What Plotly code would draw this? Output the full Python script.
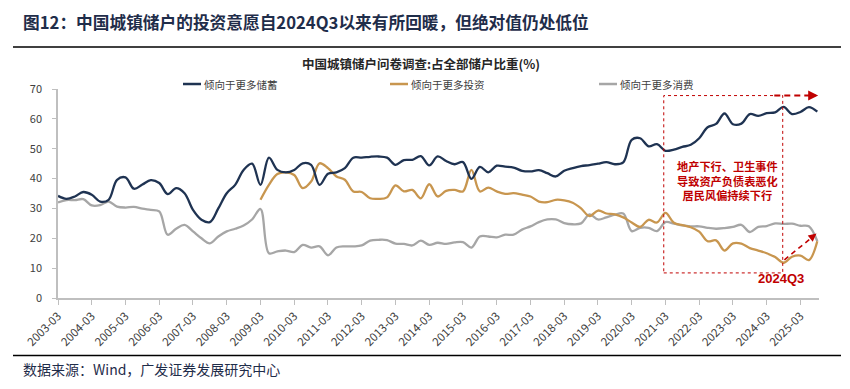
import plotly.graph_objects as go

# ---------------- data ----------------
years = list(range(2003, 2026))
months = ["03", "06", "09", "12"]
quarters = [f"{y}-{m}" for y in years for m in months][:91]   # 2003-03 .. 2025-09
tick_labels = [f"{y}-03" for y in years]

series_names = ["倾向于更多储蓄", "倾向于更多投资", "倾向于更多消费"]

savings = [
    34.2, 33.2, 34.0, 35.5, 34.6, 32.3, 32.9, 39.6, 40.4, 36.6,
    38.0, 39.5, 38.5, 34.8, 36.8, 35.1, 29.5, 26.2, 25.4, 30.0,
    35.1, 37.9, 42.9, 45.0, 37.9, 47.0, 42.9, 42.1, 42.9, 45.1,
    44.6, 37.9, 41.6, 42.1, 43.5, 47.0, 47.0, 47.3, 47.4, 47.0,
    44.6, 46.2, 46.3, 47.5, 44.4, 47.4, 45.9, 44.8, 45.5, 39.9,
    43.9, 42.1, 44.3, 44.0, 43.7, 42.6, 42.4, 42.8, 41.8, 40.7,
    42.6, 43.5, 44.2, 44.5, 45.0, 45.5, 44.8, 45.4, 53.0, 53.5,
    50.8, 51.5, 49.3, 49.7, 50.6, 51.3, 53.5, 57.2, 58.3, 61.8,
    58.2, 58.4, 61.6, 61.0, 61.9, 62.2, 64.0, 61.6, 62.3, 63.9,
    62.4,
]

consumption = [
    32.0, 32.8, 32.8, 33.1, 31.0, 31.1, 32.3, 30.6, 30.3, 30.5,
    29.9, 29.5, 29.0, 21.2, 23.2, 24.5, 22.3, 20.0, 18.3, 20.6,
    22.3, 23.2, 24.3, 26.3, 29.8, 15.0, 15.6, 15.9, 15.4, 17.8,
    16.9, 17.3, 14.3, 16.9, 17.3, 17.3, 17.6, 19.2, 19.5, 19.4,
    18.2, 18.1, 17.6, 19.2, 17.8, 18.5, 18.1, 18.6, 18.7, 16.9,
    20.6, 20.6, 20.3, 21.2, 21.2, 22.9, 24.0, 25.4, 26.3, 26.3,
    25.1, 24.7, 25.0, 28.0, 26.3, 27.0, 27.9, 28.3, 22.4, 23.5,
    23.5, 22.4, 25.4, 24.9, 24.3, 24.0, 24.0, 23.5, 23.2, 23.4,
    23.8, 24.5, 22.1, 23.8, 24.1, 25.0, 24.8, 24.9, 24.2, 24.0,
    19.0,
]

investment_start = "2009-03"
investment = [
    32.9, 37.9, 41.5, 42.1, 41.2, 36.8,
    39.0, 45.1, 43.5, 40.7, 39.6, 35.7, 35.5, 33.4, 33.2, 33.7,
    37.7, 35.7, 36.2, 33.4, 38.1, 34.0, 35.9, 36.2, 35.7, 42.9,
    35.7, 37.0, 35.7, 34.9, 35.1, 34.6, 34.0, 32.3, 32.1, 32.9,
    32.7, 31.9, 30.0, 27.4, 29.3, 28.3, 28.0, 27.0, 25.3, 23.8,
    26.2, 25.3, 28.5, 25.2, 24.4, 23.7, 22.2, 19.0, 19.3, 15.9,
    18.3, 18.2, 16.7, 15.9, 15.0, 13.7, 11.8, 13.8, 14.2, 12.7,
    19.0,
]

colors = ["#1F3352", "#C8964F", "#A6A6A6"]
RED = "#C00000"
NAVY_TXT = "#1F2D4A"
FONT = "Noto Sans CJK SC"

# ---------------- geometry (page has an 8px body margin) ----------------
OFF = 8
W, H = 834, 373
L, T = 50, 81                 # plot left/top inside the figure
R = W - 811                   # plot right at 811
B = H - 290.3                 # plot bottom at 290.3
PW, PH = W - L - R, H - T - B


def px(x):                    # screen x -> paper
    return (x - OFF - L) / PW


def py(y):                    # screen y -> paper
    return (H - B - (y - OFF)) / PH


inv_x = quarters[quarters.index(investment_start):]

fig = go.Figure()
fig.add_trace(go.Scatter(x=quarters, y=consumption, mode="lines", name=series_names[2],
                         line=dict(color=colors[2], width=2.3, shape="spline", smoothing=1)))
fig.add_trace(go.Scatter(x=inv_x, y=investment, mode="lines", name=series_names[1],
                         line=dict(color=colors[1], width=2.3, shape="spline", smoothing=1)))
fig.add_trace(go.Scatter(x=quarters, y=savings, mode="lines", name=series_names[0],
                         line=dict(color=colors[0], width=2.3, shape="spline", smoothing=1)))

shapes = []
annotations = []

# rules
for yy in (47, 356):
    shapes.append(dict(type="line", xref="paper", yref="paper", x0=px(13), x1=px(841),
                       y0=py(yy), y1=py(yy), line=dict(color="#000000", width=1.5)))

# manual legend
legend_pos = [(183, series_names[0], colors[0]), (390, series_names[1], colors[1]),
              (599, series_names[2], colors[2])]
for x0, name, c in legend_pos:
    shapes.append(dict(type="line", xref="paper", yref="paper", x0=px(x0), x1=px(x0 + 18),
                       y0=py(84), y1=py(84), line=dict(color=c, width=2.5)))
    annotations.append(dict(xref="paper", yref="paper", x=px(x0 + 19), y=py(84), text=name,
                            showarrow=False, xanchor="left", yanchor="middle",
                            font=dict(family=FONT, size=10.5, color="#404040")))

# titles and source
annotations.append(dict(xref="paper", yref="paper", x=px(21), y=py(22),
                        text="<b>图12：中国城镇储户的投资意愿自2024Q3以来有所回暖，但绝对值仍处低位</b>",
                        showarrow=False, xanchor="left", yanchor="middle",
                        font=dict(family=FONT, size=16.7, color=NAVY_TXT)))
annotations.append(dict(xref="paper", yref="paper", x=px(421), y=py(63),
                        text="<b>中国城镇储户问卷调查:占全部储户比重(%)</b>",
                        showarrow=False, xanchor="center", yanchor="middle",
                        font=dict(family=FONT, size=12.5, color="#262626")))
annotations.append(dict(xref="paper", yref="paper", x=px(21), y=py(369),
                        text="数据来源：Wind，广发证券发展研究中心",
                        showarrow=False, xanchor="left", yanchor="middle",
                        font=dict(family=FONT, size=14, color=NAVY_TXT)))

# highlight box (in data units: category index / value)
box_x0, box_x1, box_y0, box_y1 = 71.8, 85.9, 8.4, 67.8
shapes.append(dict(type="rect", xref="x", yref="y", x0=box_x0, x1=box_x1, y0=box_y0, y1=box_y1,
                   line=dict(color=RED, width=1, dash="3px,3px")))
# top arrow
shapes.append(dict(type="line", xref="x", yref="y", x0=84.9, x1=89.7, y0=box_y1, y1=box_y1,
                   line=dict(color=RED, width=2, dash="6px,4px")))
annotations.append(dict(xref="x", yref="y", x=90.1, y=box_y1, ax=-7, ay=0, text="",
                        showarrow=True, arrowhead=2, arrowsize=1, arrowwidth=2, arrowcolor=RED))
# diagonal arrow
shapes.append(dict(type="line", xref="x", yref="y", x0=86.1, x1=89.5, y0=12.8, y1=20.6,
                   line=dict(color=RED, width=1.6, dash="5px,4px")))
annotations.append(dict(xref="x", yref="y", x=89.9, y=21.6, ax=-5.5, ay=4.4, text="",
                        showarrow=True, arrowhead=2, arrowsize=1, arrowwidth=1.6, arrowcolor=RED))

annotations.append(dict(xref="x", yref="y", x=79.4, y=39.3,
                        text="<b>地产下行、卫生事件<br>导致资产负债表恶化<br>居民风偏持续下行</b>",
                        showarrow=False, xanchor="center", yanchor="middle", align="center",
                        font=dict(family=FONT, size=11.2, color=RED)))
annotations.append(dict(xref="x", yref="y", x=85.7, y=6.6, text="<b>2024Q3</b>",
                        showarrow=False, xanchor="center", yanchor="middle",
                        font=dict(family="Liberation Sans", size=13, color=RED)))

fig.update_layout(
    width=W, height=H, autosize=False,
    margin=dict(l=L, r=R, t=T, b=B, pad=0, autoexpand=False),
    paper_bgcolor="white", plot_bgcolor="white",
    showlegend=False,
    shapes=shapes, annotations=annotations,
    font=dict(family=FONT, color="#404040"),
)
fig.update_xaxes(
    type="category", categoryorder="array", categoryarray=quarters, automargin=False,
    range=[0, 90.2], tickmode="array", tickvals=tick_labels, ticktext=tick_labels,
    tickangle=-45, tickfont=dict(family=FONT, size=11.5, color="#404040"),
    showline=True, linecolor="#BFBFBF", linewidth=1.5,
    ticks="outside", ticklen=5, tickcolor="#BFBFBF", showgrid=False, zeroline=False,
)
fig.update_yaxes(
    range=[0, 70], dtick=10, tick0=0, automargin=False,
    tickfont=dict(family=FONT, size=11, color="#404040"),
    showline=True, linecolor="#BFBFBF", linewidth=1.5,
    ticks="outside", ticklen=4, tickcolor="#BFBFBF", showgrid=False, zeroline=False,
    ticklabelstandoff=8,
)

fig.write_html("out.html")
